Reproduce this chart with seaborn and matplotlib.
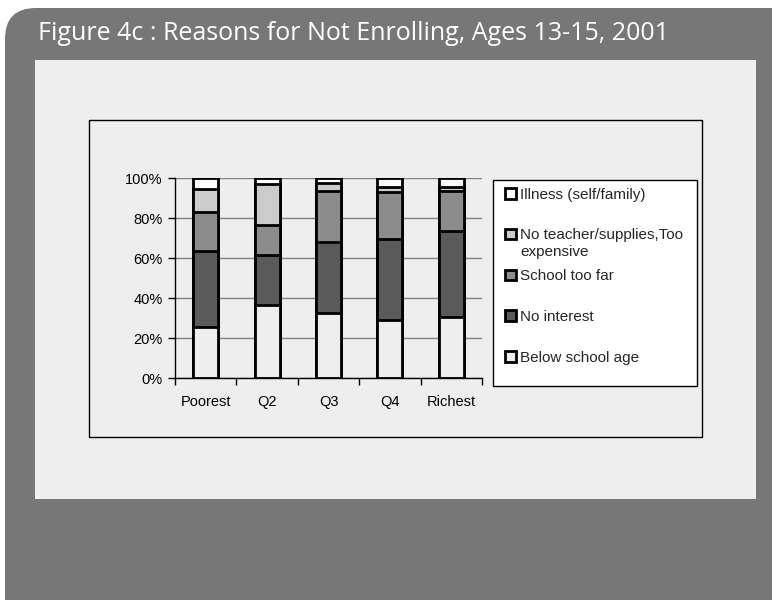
import matplotlib
matplotlib.use("Agg")
import matplotlib.pyplot as plt
from matplotlib.patches import FancyBboxPatch, Rectangle, Patch
import seaborn as sns
import pandas as pd
import numpy as np

categories = ["Poorest", "Q2", "Q3", "Q4", "Richest"]
below_school_age = [25.5, 36.3, 32.7, 28.8, 30.3]
no_interest = [38.2, 25.3, 35.1, 40.9, 43.2]
school_too_far = [19.4, 14.8, 25.8, 23.1, 19.8]
no_teacher = [11.2, 20.6, 3.9, 2.5, 2.0]
illness = [5.7, 3.0, 2.5, 4.7, 4.7]

series_names = ["Below school age", "No interest", "School too far",
                "No teacher/supplies,Too", "Illness (self/family)"]
wrap_extra = {3: "expensive"}
series_vals = [below_school_age, no_interest, school_too_far, no_teacher, illness]
series_colors = ["#eeeeee", "#5a5a5a", "#8c8c8c", "#cccccc", "#ffffff"]

sns.set_theme(style="white")
plt.rcParams['font.family'] = ['Liberation Sans', 'DejaVu Sans']

W, H = 772, 600
fig = plt.figure(figsize=(W / 100, H / 100), dpi=100)
fig.patch.set_facecolor("white")

def px(x, y):
    return x / W, 1 - y / H

# outer dark rounded panel
outer = FancyBboxPatch((5 / W, -40 / H), (W + 40) / W, (H + 32) / H,
                       boxstyle="round,pad=0,rounding_size=0.04",
                       transform=fig.transFigure, facecolor="#777777",
                       edgecolor="none", mutation_aspect=W / H, zorder=0)
fig.patches.append(outer)

# inner light panel
fig.patches.append(Rectangle(px(35, 499), (756 - 35) / W, (499 - 60) / H,
                             transform=fig.transFigure, facecolor="#eeeeee",
                             edgecolor="none", zorder=1))

# chart frame
fig.patches.append(Rectangle(px(89, 437), (702 - 89) / W, (437 - 120) / H,
                             transform=fig.transFigure, facecolor="#eeeeee",
                             edgecolor="black", linewidth=1.0, zorder=2))

fig.text(38 / W, 1 - 34 / H, "Figure 4c : Reasons for Not Enrolling, Ages 13-15, 2001",
         color="white", fontsize=18, family=["Open Sans", "DejaVu Sans"],
         va="center", ha="left", zorder=5)

# chart axes
x0, x1, y0, y1 = 175, 482, 178, 378
ax = fig.add_axes([x0 / W, 1 - y1 / H, (x1 - x0) / W, (y1 - y0) / H], zorder=3)
ax.set_facecolor("none")

cum = np.zeros(len(categories))
cums = []
for v in series_vals:
    cum = cum + np.array(v)
    cums.append(cum.copy())

for i in range(len(series_vals) - 1, -1, -1):
    d = pd.DataFrame({"cat": categories, "val": cums[i]})
    sns.barplot(data=d, x="cat", y="val", color=series_colors[i], ax=ax,
                width=0.41, edgecolor="black", linewidth=2.0, saturation=1)

ax.set_ylim(0, 100)
ax.set_xlim(-0.5, 4.5)
ax.set_yticks([0, 20, 40, 60, 80, 100])
ax.set_yticklabels(["0%", "20%", "40%", "60%", "80%", "100%"])
ax.set_xlabel("")
ax.set_ylabel("")
ax.yaxis.grid(True, color="#808080", linewidth=1.0)
ax.set_axisbelow(True)
for s in ["top", "right"]:
    ax.spines[s].set_visible(False)
for s in ["left", "bottom"]:
    ax.spines[s].set_color("black")
    ax.spines[s].set_linewidth(1.0)
ax.tick_params(axis="y", left=True, length=5, width=1, color="black",
               labelsize=10.5, labelcolor="black", pad=4)
ax.set_xticks(range(5))
ax.set_xticklabels(categories)
ax.tick_params(axis="x", bottom=False, labelsize=10.5, labelcolor="black", pad=6)
ax.set_xticks([-0.5, 0.5, 1.5, 2.5, 3.5, 4.5], minor=True)
ax.tick_params(axis="x", which="minor", bottom=True, length=5, width=1, color="black")
ax.xaxis.grid(False, which="both")

# legend frame (drawn separately for Excel-like padding)
fig.patches.append(Rectangle(px(493, 386), (697 - 493) / W, (386 - 180) / H,
                             transform=fig.transFigure, facecolor="white",
                             edgecolor="black", linewidth=1.0, zorder=5))

order = list(range(len(series_vals) - 1, -1, -1))
handles = [Patch(facecolor=series_colors[i], edgecolor="black", linewidth=2.0)
           for i in order]
labels = [series_names[i] for i in order]
fs = 11
leg = fig.legend(handles, labels, loc="upper left",
                 bbox_to_anchor=(505 / W, 1 - 187.5 / H),
                 frameon=False, fontsize=fs,
                 handlelength=0.7, handleheight=0.7, handletextpad=0.3,
                 labelspacing=1.76, borderpad=0, borderaxespad=0)
leg.set_zorder(6)

fig.canvas.draw()
for k, i in enumerate(order):
    if i in wrap_extra:
        t = leg.get_texts()[k]
        bb = t.get_window_extent()
        fig.text(bb.x0 / W, (bb.y0 - 16.5) / H, wrap_extra[i], fontsize=fs,
                 color=t.get_color(), ha="left", va="bottom", zorder=7)

fig.savefig("out.png", dpi=100)
